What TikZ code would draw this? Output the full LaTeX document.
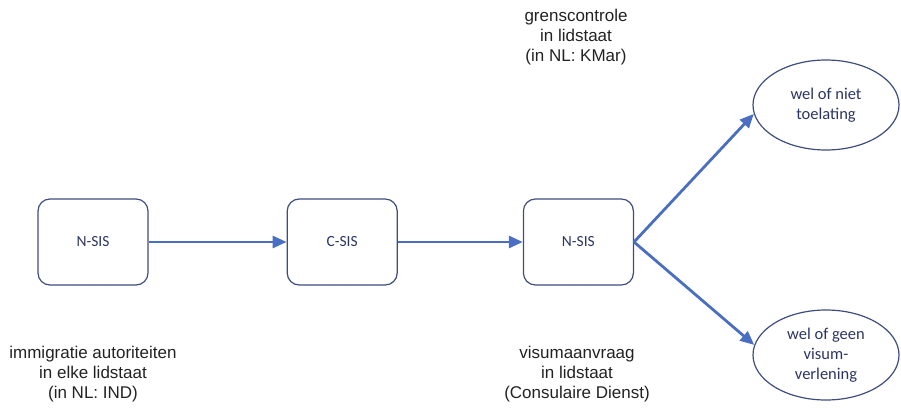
\documentclass[tikz,border=0pt]{standalone}
\usepackage{fontspec}
\setmainfont{Liberation Sans}
\newfontfamily\boxfont{Carlito}
\usepackage{tikz}
\usetikzlibrary{positioning, shapes.geometric, arrows.meta}
\definecolor{navyline}{HTML}{3F4D7E}
\definecolor{navytext}{HTML}{2C3562}
\definecolor{flowblue}{HTML}{4A6FC2}
\definecolor{labelgray}{HTML}{222222}
\tikzstyle{sisbox} = [
    rectangle, draw=navyline, line width=1.2pt, rounded corners=12pt,
    minimum width=110pt, minimum height=86pt, % box size
    text=navytext, font=\boxfont\fontsize{15.5}{18}\selectfont
]
\tikzstyle{outcome} = [
    ellipse, draw=navyline, line width=1.2pt, inner sep=0pt,
    minimum width=146pt, minimum height=90pt, % oval size
    align=center, text=navytext, font=\boxfont\fontsize{16.5}{20}\selectfont
]
\tikzstyle{place} = [
    align=center, text=labelgray, font=\fontsize{17}{20}\selectfont
]
\tikzstyle{flow} = [
    draw=flowblue, line width=2.8pt, -{Triangle[length=14pt, width=12pt]}
]

\begin{document}
\begin{tikzpicture}[x=1pt, y=1pt]
        \useasboundingbox (0,0) rectangle (901,408);

        % SIS nodes
        \node[sisbox] (nsisa) at (93,166) {N-SIS};
        \node[sisbox] (csis) [right=138pt of nsisa] {C-SIS};
        \node[sisbox] (nsisb) [right=125pt of csis] {N-SIS};

        % Outcomes
        \node[outcome] (entry) at (826,303) {wel of niet\\toelating};
        \node[outcome] (visa) at (826,53) {wel of geen\\visum-\\verlening};

        % Authorities
        \node[place] (immig) at (93,34) {immigratie autoriteiten\\in elke lidstaat\\(in NL: IND)};
        \node[place] (border) at (576,371) {grenscontrole\\in lidstaat\\(in NL: KMar)};
        \node[place] (consul) at (577,34) {visumaanvraag\\in lidstaat\\(Consulaire Dienst)};

        % Flow
        \draw[flow] (nsisa.east) -- (csis.west);
        \draw[flow] (csis.east) -- (nsisb.west);
        \draw[flow] (nsisb.east) -- (entry.187);
        \draw[flow] (nsisb.east) -- (visa.172);

    \end{tikzpicture}
\end{document}
